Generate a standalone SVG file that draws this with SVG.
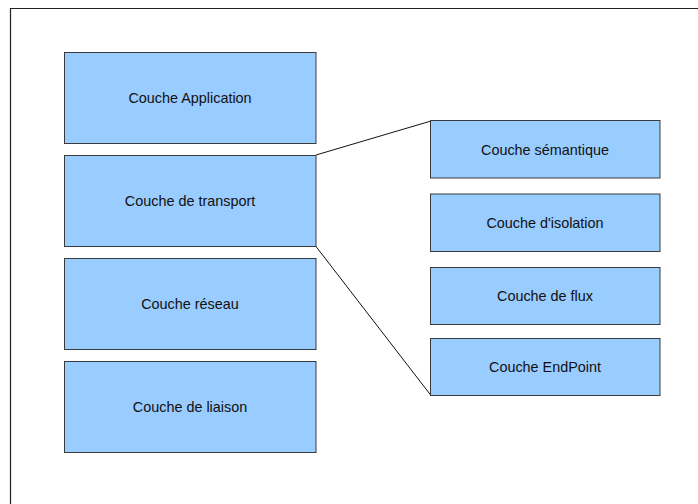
<svg xmlns="http://www.w3.org/2000/svg" width="698" height="504" viewBox="0 0 698 504">
<style>
.box{fill:#99ccff;stroke:#3a3a3a;stroke-width:1}
.lbl{font-family:"Liberation Sans",Arial,sans-serif;font-size:14.4px;fill:#111;text-anchor:middle;dominant-baseline:central}
.con{stroke:#111;stroke-width:1;fill:none}
</style>
<rect x="0" y="0" width="698" height="504" fill="#fff"/>
<path d="M10.5 504 V8.5 H698" fill="none" stroke="#222" stroke-width="1.2"/>
<g id="connectors">
<line class="con" x1="316" y1="155" x2="431" y2="121"/>
<line class="con" x1="316" y1="246.5" x2="431" y2="395.5"/>
</g>
<g id="app"><rect class="box" x="64.5" y="52.5" width="251.5" height="91"/><text class="lbl" x="190" y="98">Couche Application</text></g>
<g id="transport"><rect class="box" x="64.5" y="155.5" width="251.5" height="91"/><text class="lbl" x="190" y="201">Couche de transport</text></g>
<g id="reseau"><rect class="box" x="64.5" y="258.5" width="251.5" height="91"/><text class="lbl" x="190" y="304">Couche réseau</text></g>
<g id="liaison"><rect class="box" x="64.5" y="361.5" width="251.5" height="91"/><text class="lbl" x="190" y="407">Couche de liaison</text></g>
<g id="semantique"><rect class="box" x="430.5" y="120.5" width="229.5" height="57.5"/><text class="lbl" x="545" y="149.5">Couche sémantique</text></g>
<g id="isolation"><rect class="box" x="430.5" y="194" width="229.5" height="57.5"/><text class="lbl" x="545" y="223">Couche d'isolation</text></g>
<g id="flux"><rect class="box" x="430.5" y="267.5" width="229.5" height="57"/><text class="lbl" x="545" y="296">Couche de flux</text></g>
<g id="endpoint"><rect class="box" x="430.5" y="338.5" width="229.5" height="57"/><text class="lbl" x="545" y="367">Couche EndPoint</text></g>
</svg>
